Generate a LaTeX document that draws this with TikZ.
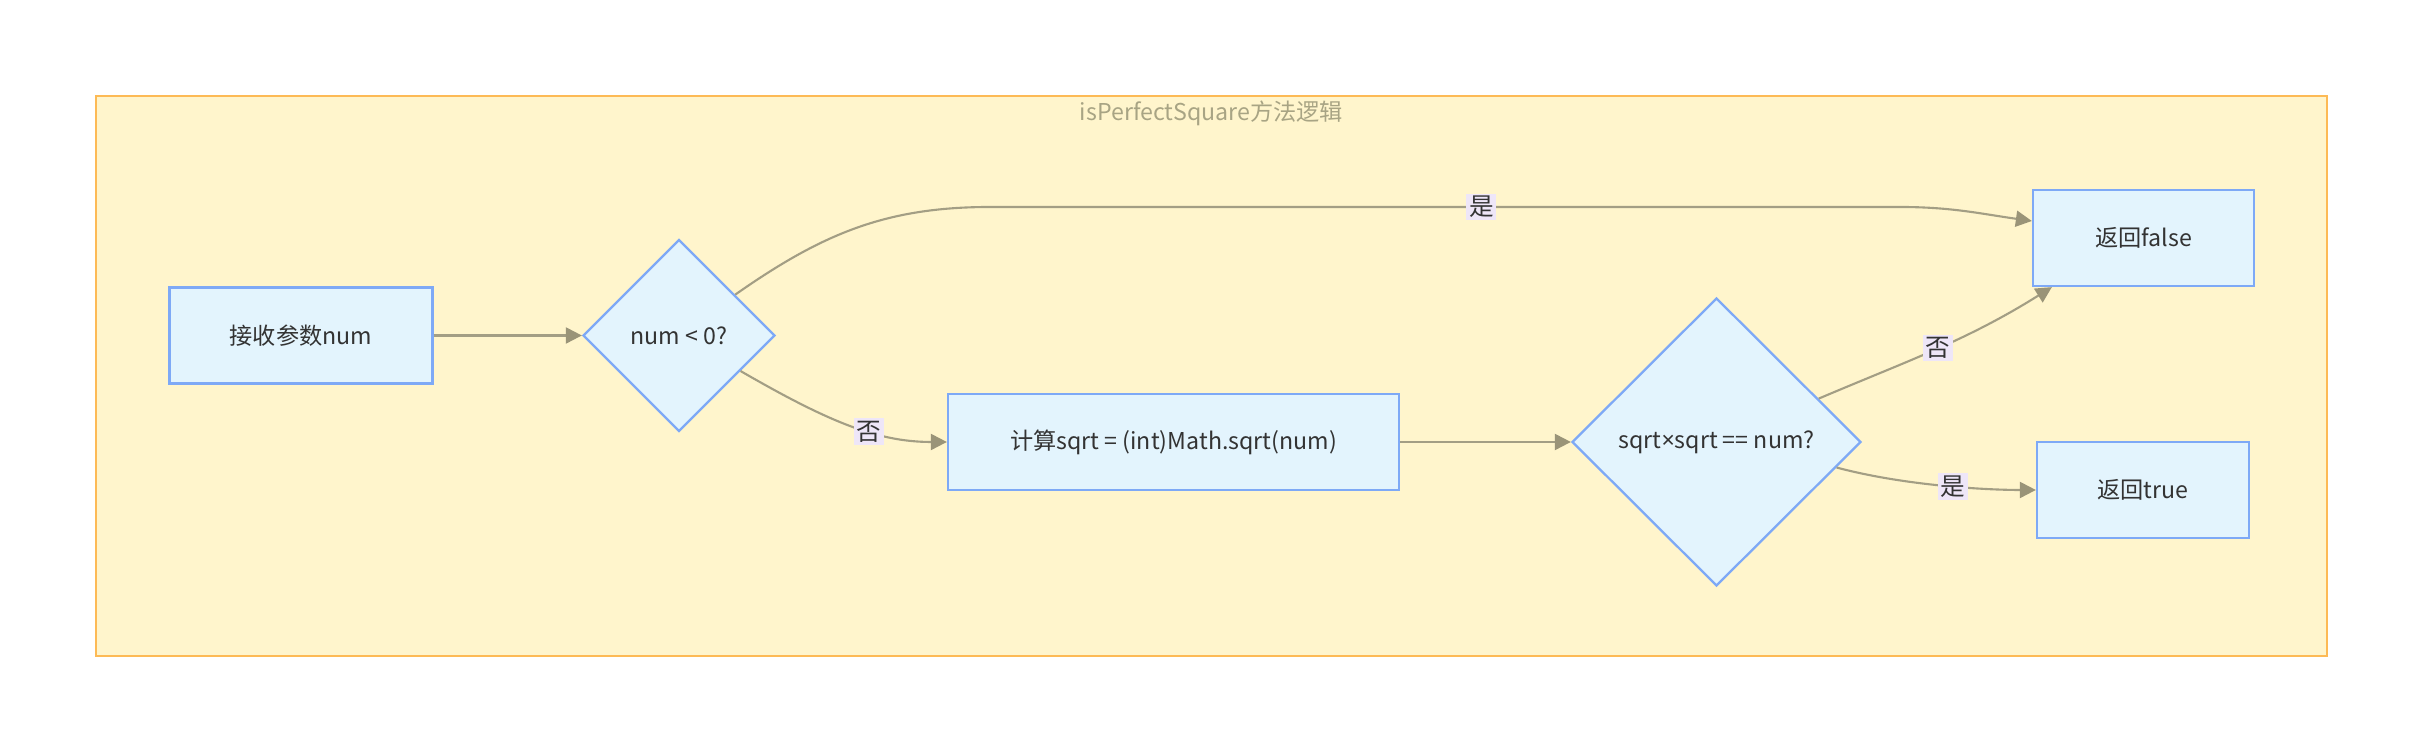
\documentclass[tikz,border=0pt]{standalone}
\usepackage{fontspec}
\setmainfont{Noto Sans CJK SC}
\newfontfamily\latinfont{Noto Sans}
\usepackage{tikz}
\usetikzlibrary{shapes,arrows.meta,positioning,calc}
\definecolor{grpfill}{HTML}{FFF5CC}
\definecolor{grpline}{HTML}{FDBA55}
\definecolor{grptext}{HTML}{A8A484}
\definecolor{boxfill}{HTML}{E3F4FD}
\definecolor{boxline}{HTML}{7EA9F6}
\definecolor{edgecol}{HTML}{A39E84}
\definecolor{tipcol}{HTML}{9A9478}
\definecolor{lblfill}{HTML}{EEE6F8}
\definecolor{txt}{HTML}{333333}

\begin{document}
\begin{tikzpicture}[
  grp/.style={rectangle,draw=grpline,fill=grpfill,line width=1.1pt,minimum width=44.62cm,minimum height=11.2cm},
  proc/.style={rectangle,draw=boxline,fill=boxfill,line width=1.3pt,minimum height=1.92cm,text=txt,font=\fontsize{13.2pt}{16pt}\selectfont},
  dec/.style={diamond,aspect=1,inner sep=0pt,draw=boxline,fill=boxfill,line width=1.3pt,text=txt,font=\fontsize{13.2pt}{16pt}\selectfont},
  flow/.style={draw=edgecol,line width=1.2pt,-{Triangle[length=0.32cm,width=0.32cm,fill=tipcol,color=tipcol]}},
  lbl/.style={fill=lblfill,inner sep=1.5pt,text=txt,font=\fontsize{14pt}{16pt}\selectfont}
]
  \useasboundingbox (0,0) rectangle (48.48,15.02);
  \node[grp] (grp) at (24.23,7.5) {};
  \node[text=grptext,font=\fontsize{13.2pt}{16pt}\selectfont] (title) at (24.23,12.76) {isPerfectSquare方法逻辑};
  \node[proc,minimum width=5.26cm] (recv) at (6.02,8.31) {接收参数num};
  \node[dec,minimum width=3.84cm,minimum height=3.84cm] (neg) at (13.58,8.31) {num < 0?};
  \node[proc,minimum width=9.02cm] (calc) at (23.47,6.18) {计算sqrt = (int)Math.sqrt(num)};
  \node[dec,minimum width=5.78cm,minimum height=5.76cm] (chk) at (34.33,6.18) {sqrt{\latinfont ×}sqrt == num?};
  \node[proc,minimum width=4.42cm] (fls) at (42.87,10.26) {返回false};
  \node[proc,minimum width=4.24cm] (tru) at (42.86,5.22) {返回true};
  \draw[flow] (recv.east) -- (neg.west);
  \draw[flow] (neg.36) to[out=35,in=180] (19.8,10.88) -- node[lbl,pos=0.54] {是} (38,10.88) to[out=0,in=172] ([yshift=0.34cm]fls.west);
  \draw[flow] (neg.-30) .. controls +(-30:2.0) and +(180:1.4) .. node[lbl,pos=0.6] {否} (calc.west);
  \draw[flow] (calc.east) -- (chk.west);
  \draw[flow] (chk.23) to[out=23,in=-148] node[lbl,pos=0.5] {否} ([xshift=0.4cm]fls.south west);
  \draw[flow] (chk.-12) .. controls +(-15:1.4) and +(180:1.0) .. node[lbl,pos=0.55] {是} (tru.west);
\end{tikzpicture}
\end{document}
